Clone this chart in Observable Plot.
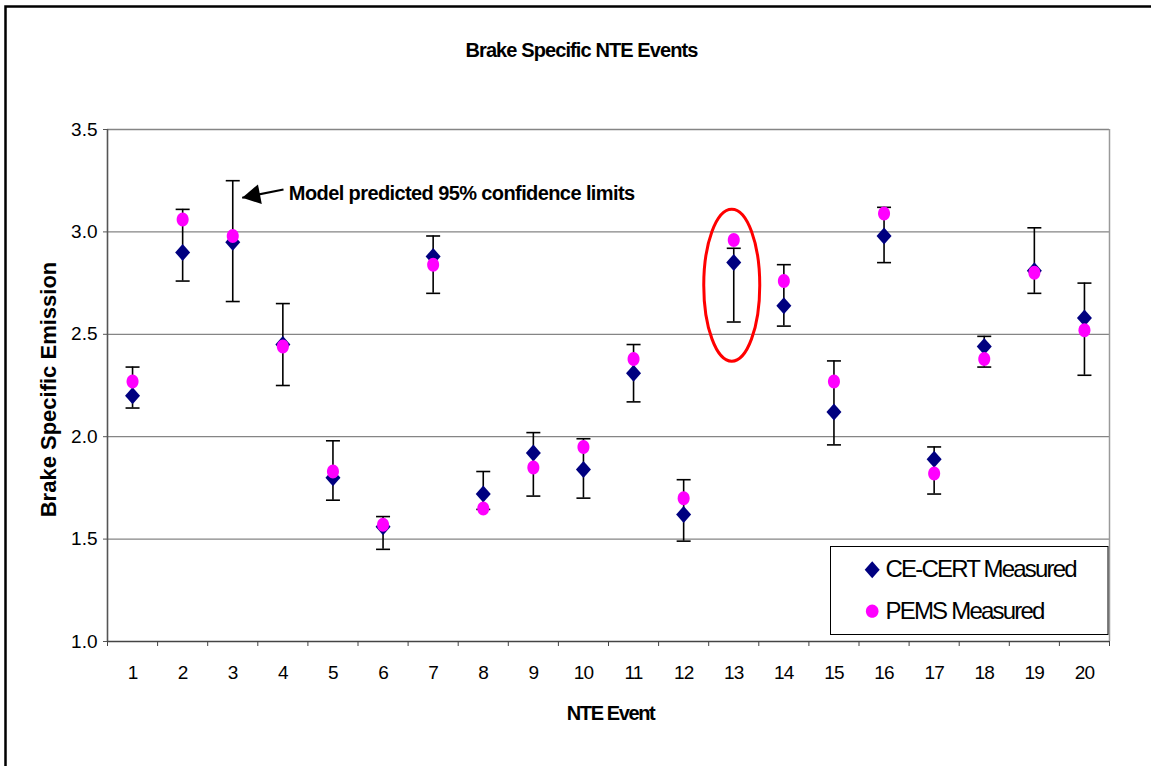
<!DOCTYPE html>
<html><head><meta charset="utf-8">
<script src="https://cdn.jsdelivr.net/npm/d3@7"></script>
<script src="https://cdn.jsdelivr.net/npm/@observablehq/plot@0.6"></script>
<style>
html,body{margin:0;padding:0;background:#fff;}
#chart svg{display:block;}
</style></head>
<body><div id="chart"></div>
<script>
// ---- data ----
const events = [1,2,3,4,5,6,7,8,9,10,11,12,13,14,15,16,17,18,19,20];
const ceCert = [2.20,2.90,2.95,2.45,1.80,1.56,2.88,1.72,1.92,1.84,2.31,1.62,2.85,2.64,2.12,2.98,1.89,2.44,2.81,2.58];
const pems   = [2.27,3.06,2.98,2.44,1.83,1.57,2.84,1.65,1.85,1.95,2.38,1.70,2.96,2.76,2.27,3.09,1.82,2.38,2.80,2.52];
const upper  = [2.34,3.11,3.25,2.65,1.98,1.61,2.98,1.83,2.02,1.99,2.45,1.79,2.92,2.84,2.37,3.12,1.95,2.49,3.02,2.75];
const lower  = [2.14,2.76,2.66,2.25,1.69,1.45,2.70,1.645,1.71,1.70,2.17,1.49,2.56,2.54,1.96,2.85,1.72,2.34,2.70,2.30];
const yTicks = [1.0,1.5,2.0,2.5,3.0,3.5];
const yGrid = [1.5,2.0,2.5,3.0,3.5];
const xBounds = [0.5,1.5,2.5,3.5,4.5,5.5,6.5,7.5,8.5,9.5,10.5,11.5,12.5,13.5,14.5,15.5,16.5,17.5,18.5,19.5,20.5];
const legendLabels = ["CE-CERT Measured","PEMS Measured"];
const titleText = "Brake Specific NTE Events";
const xLabel = "NTE Event";
const yLabel = "Brake Specific Emission";
const annotation = [{x: 4, y: 3.185, label: "Model predicted 95% confidence limits"}];
const arrow = [{x1: 4.013, y1: 3.207, x2: 3.189, y2: 3.167}];
const highlight = [{event: 13, y: 2.74}];

const rows = events.map((e,i) => ({event: e, ce: ceCert[i], pems: pems[i], hi: upper[i], lo: lower[i]}));

// ---- custom symbols ----
function ellipseSymbol(rx, ry) {
  const k = 0.5523;
  return {draw(c) {
    c.moveTo(rx, 0);
    c.bezierCurveTo(rx, ry*k, rx*k, ry, 0, ry);
    c.bezierCurveTo(-rx*k, ry, -rx, ry*k, -rx, 0);
    c.bezierCurveTo(-rx, -ry*k, -rx*k, -ry, 0, -ry);
    c.bezierCurveTo(rx*k, -ry, rx, -ry*k, rx, 0);
    c.closePath();
  }};
}
function diamondSymbol(hw, hh) {
  return {draw(c) { c.moveTo(0,-hh); c.lineTo(hw,0); c.lineTo(0,hh); c.lineTo(-hw,0); c.closePath(); }};
}
const capSymbol = {draw(c) { c.moveTo(-7,0); c.lineTo(7,0); }};
const headSymbol = {draw(c) { c.moveTo(0,0); c.lineTo(18,-10); c.lineTo(18,10); c.closePath(); }};

const FONT = "Liberation Sans, Arial, Helvetica, sans-serif";
const NAVY = "#000080", PINK = "#FF00FF";

const chart = Plot.plot({
  width: 1151, height: 766,
  marginLeft: 107, marginRight: 42, marginTop: 129, marginBottom: 125,
  style: {fontFamily: FONT, background: "#fff", color: "#000", overflow: "visible"},
  x: {domain: [0.5, 20.5]},
  y: {domain: [1, 3.5]},
  marks: [
    // outer chart border
    Plot.frame({stroke: "#000", strokeWidth: 2.5, fill: "none", insetLeft: -102, insetTop: -123, insetRight: -60, insetBottom: -200}),
    // gridlines
    Plot.ruleY(yGrid, {stroke: "#858585", strokeWidth: 1.3}),
    Plot.ruleX([20.5], {stroke: "#9a9a9a", strokeWidth: 1.5}),
    Plot.ruleX([0.5], {stroke: "#555", strokeWidth: 1.6}),
    Plot.ruleY([1], {stroke: "#444", strokeWidth: 1.6}),
    // axes
    Plot.axisY({ticks: yTicks, tickFormat: d3.format(".1f"), tickSize: 4, tickPadding: 6, fontSize: 19, stroke: "#555", label: null}),
    Plot.axisX({ticks: xBounds, tickFormat: () => "", tickSize: 5, stroke: "#444", label: null}),
    Plot.axisX({ticks: events, tickFormat: d3.format("d"), tickSize: 0, tickPadding: 24, fontSize: 19, label: null}),
    // error bars
    Plot.ruleX(rows, {x: "event", y1: "lo", y2: "hi", stroke: "#000", strokeWidth: 1.6}),
    Plot.dot(rows, {x: "event", y: "hi", symbol: capSymbol, fill: "none", stroke: "#000", strokeWidth: 1.6}),
    Plot.dot(rows, {x: "event", y: "lo", symbol: capSymbol, fill: "none", stroke: "#000", strokeWidth: 1.6}),
    // measurements
    Plot.dot(rows, {x: "event", y: "ce", symbol: diamondSymbol(7.5, 8.5), fill: NAVY, stroke: "none"}),
    Plot.dot(rows, {x: "event", y: "pems", symbol: ellipseSymbol(6, 7), fill: PINK, stroke: "none"}),
    // highlight ellipse
    Plot.dot(highlight, {x: "event", y: "y", dx: -2, symbol: ellipseSymbol(28, 76), fill: "none", stroke: "#FF0000", strokeWidth: 3}),
    // annotation arrow and text
    Plot.link(arrow, {x1: "x1", y1: "y1", x2: "x2", y2: "y2", stroke: "#000", strokeWidth: 2}),
    Plot.dot(arrow, {x: "x2", y: "y2", symbol: headSymbol, rotate: -11, fill: "#000", stroke: "none"}),
    Plot.text(annotation, {x: "x", y: "y", text: "label", dx: 6, textAnchor: "start", lineAnchor: "middle", fontSize: 20, fontWeight: "bold", fill: "#000"}),
    // legend
    Plot.frame({fill: "#fff", stroke: "#000", strokeWidth: 1, insetLeft: 723, insetRight: 1.5, insetTop: 417, insetBottom: 7}),
    Plot.dot([legendLabels[0]], {frameAnchor: "bottom-right", dx: -237.3, dy: -71.7, symbol: diamondSymbol(7.5, 8.5), fill: NAVY, stroke: "none"}),
    Plot.dot([legendLabels[1]], {frameAnchor: "bottom-right", dx: -237.3, dy: -30.3, symbol: ellipseSymbol(6.3, 6.6), fill: PINK, stroke: "none"}),
    Plot.text([legendLabels[0]], {frameAnchor: "bottom-right", text: d => d, dx: -224, dy: -71.7, textAnchor: "start", lineAnchor: "middle", fontSize: 24, fill: "#000"}),
    Plot.text([legendLabels[1]], {frameAnchor: "bottom-right", text: d => d, dx: -224, dy: -30.3, textAnchor: "start", lineAnchor: "middle", fontSize: 24, fill: "#000"}),
    // titles
    Plot.text([titleText], {frameAnchor: "top", text: d => d, dx: -27, dy: -79, textAnchor: "middle", lineAnchor: "middle", fontSize: 20, fontWeight: "bold", fill: "#000"}),
    Plot.text([xLabel], {frameAnchor: "bottom", text: d => d, dx: 2, dy: 72, textAnchor: "middle", lineAnchor: "middle", fontSize: 20, fontWeight: "bold", fill: "#000"}),
    Plot.text([yLabel], {frameAnchor: "left", text: d => d, dx: -59, dy: 4, rotate: -90, textAnchor: "middle", lineAnchor: "middle", fontSize: 22, fontWeight: "bold", fill: "#000"})
  ]
});

// tighten letter spacing to match the condensed original rendering
const spacing = new Map([
  [titleText, -0.9], [xLabel, -1.4], [annotation[0].label, -0.6],
  [legendLabels[0], -1.8], [legendLabels[1], -1.8]
]);
d3.select(chart).selectAll("text").each(function() {
  const t = this.textContent;
  if (spacing.has(t)) this.setAttribute("letter-spacing", spacing.get(t));
  else if (/^\d+$/.test(t)) this.setAttribute("letter-spacing", -0.8);
});
document.getElementById("chart").appendChild(chart);
</script></body></html>
